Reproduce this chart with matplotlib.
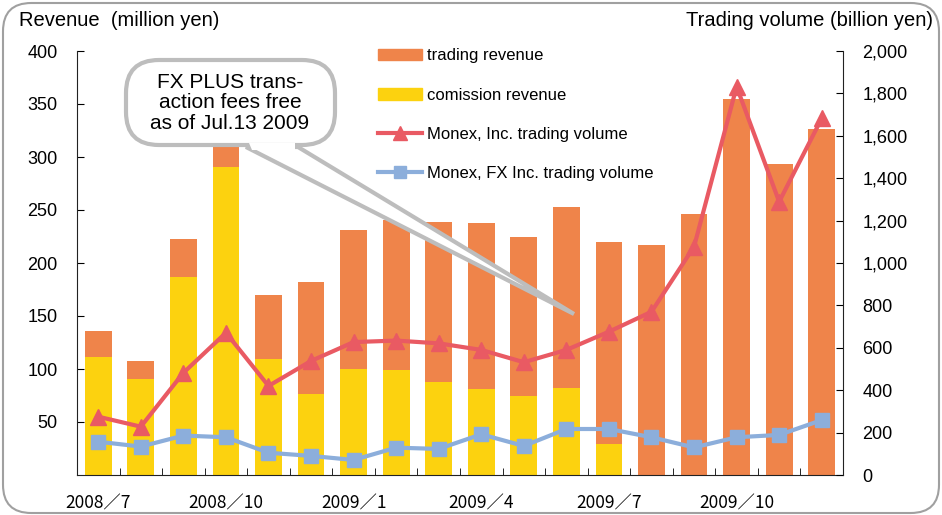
import matplotlib
matplotlib.use("Agg")
import matplotlib.pyplot as plt
from matplotlib.patches import FancyBboxPatch, Polygon, Patch
from matplotlib.lines import Line2D
import numpy as np

plt.rcParams['font.family'] = ['Liberation Sans', 'DejaVu Sans']

months = ["2008/7", "2008/8", "2008/9", "2008/10", "2008/11", "2008/12",
          "2009/1", "2009/2", "2009/3", "2009/4", "2009/5", "2009/6",
          "2009/7", "2009/8", "2009/9", "2009/10", "2009/11", "2009/12"]
commission_revenue = [111, 91, 187, 291, 109, 76, 100, 99, 88, 81, 75, 82, 29, 0, 0, 0, 0, 0]
total_revenue = [136, 108, 223, 310, 170, 182, 231, 241, 239, 238, 225, 253, 220, 217, 246, 355, 293, 326]
trading_revenue = [t - c for t, c in zip(total_revenue, commission_revenue)]
monex_inc_volume = [275, 228, 482, 671, 420, 538, 627, 634, 621, 590, 532, 590, 676, 770, 1077, 1832, 1289, 1682]
monex_fx_volume = [157, 134, 186, 178, 105, 90, 71, 129, 123, 192, 137, 217, 217, 178, 130, 178, 189, 259]
tick_labels = ["2008／7", "2008／10", "2009／1", "2009／4", "2009／7", "2009／10"]
tick_idx = [0, 3, 6, 9, 12, 15]

ORANGE = "#EF844A"
YELLOW = "#FCD20F"
RED = "#E95A63"
BLUE = "#8CAEDB"

W, H = 942, 515
fig = plt.figure(figsize=(W / 100, H / 100), dpi=100)

def fx(x):
    return x / W

def fy(y):
    return 1 - y / H

L, R, T, B = 77, 843, 51, 475
ax = fig.add_axes([fx(L), fy(B), (R - L) / W, (B - T) / H])
ax2 = ax.twinx()

x = np.arange(len(months))
bw = 0.63
ax.bar(x, commission_revenue, bw, color=YELLOW, zorder=2)
ax.bar(x, trading_revenue, bw, bottom=commission_revenue, color=ORANGE, zorder=2)

ax2.plot(x, monex_inc_volume, color=RED, lw=3, marker="^", ms=11, zorder=3)
ax2.plot(x, monex_fx_volume, color=BLUE, lw=3, marker="s", ms=10, zorder=3)

ax.set_xlim(-0.5, len(months) - 0.5)
ax.set_ylim(0, 400)
ax2.set_ylim(0, 2000)

ax.set_yticks(np.arange(50, 401, 50))
ax.tick_params(axis="y", direction="in", length=5, pad=14, labelsize=13)
ax2.set_yticks(np.arange(0, 2001, 200))
ax2.set_yticklabels([f"{v:,}" for v in range(0, 2001, 200)])
ax2.tick_params(axis="y", direction="in", length=5, pad=14, labelsize=13)

ax.set_xticks(x[tick_idx])
ax.set_xticklabels(tick_labels, family=['Noto Sans CJK JP', 'DejaVu Sans'], fontsize=12.5)
ax.set_xticks(np.arange(-0.5, len(months), 1), minor=True)
ax.tick_params(axis="x", which="major", length=0, pad=14)
ax.tick_params(axis="x", which="minor", direction="in", length=5)

for a in (ax, ax2):
    a.spines["top"].set_visible(False)
    a.patch.set_visible(False)
ax.spines["right"].set_visible(False)
ax2.spines["left"].set_visible(False)
ax2.spines["bottom"].set_visible(False)
for s in ("left", "bottom"):
    ax.spines[s].set_color("#222222")
ax2.spines["right"].set_color("#222222")

fig.text(fx(19), fy(21), "Revenue  (million yen)", fontsize=14.5, va="center", ha="left")
fig.text(fx(933), fy(21), "Trading volume (billion yen)", fontsize=14.5, va="center", ha="right")

handles = [Patch(color=ORANGE), Patch(color=YELLOW),
           Line2D([], [], color=RED, lw=3, marker="^", ms=10),
           Line2D([], [], color=BLUE, lw=3, marker="s", ms=9)]
labels = ["trading revenue", "comission revenue", "Monex, Inc. trading volume", "Monex, FX Inc. trading volume"]
fig.legend(handles, labels, loc="upper left", bbox_to_anchor=(fx(370), fy(40)), frameon=False,
           fontsize=12, handlelength=2.6, handletextpad=0.3, labelspacing=1.45, borderpad=0)

# callout
GRAY = "#BDBDBD"
tip = (574, 314)
b1, b2 = (246, 147), (298, 147)
wedge = Polygon([(fx(b1[0]), fy(b1[1])), (fx(tip[0]), fy(tip[1])), (fx(b2[0]), fy(b2[1]))],
                closed=True, transform=fig.transFigure, facecolor="white", edgecolor=GRAY, lw=3, zorder=10)
fig.add_artist(wedge)
box = FancyBboxPatch((fx(126), fy(145)), fx(335) - fx(126), fy(60) - fy(145),
                     boxstyle="round,pad=0,rounding_size=0.035", transform=fig.transFigure,
                     facecolor="white", edgecolor=GRAY, lw=3, zorder=11, mutation_aspect=W / H)
fig.add_artist(box)
cover = Polygon([(fx(b1[0] + 3), fy(b1[1] - 4)), (fx(b1[0] + 6), fy(b1[1] + 3)),
                 (fx(b2[0] - 3), fy(b2[1] + 3)), (fx(b2[0] - 3), fy(b2[1] - 4))],
                closed=True, transform=fig.transFigure, facecolor="white", edgecolor="none", zorder=12)
fig.add_artist(cover)
fig.text(fx(230), fy(103), "FX PLUS trans-\naction fees free\nas of Jul.13 2009", fontsize=15,
         ha="center", va="center", linespacing=1.1, zorder=13)

frame = FancyBboxPatch((fx(3), fy(513)), fx(939) - fx(3), fy(3) - fy(513),
                       boxstyle="round,pad=0,rounding_size=0.03", transform=fig.transFigure,
                       facecolor="none", edgecolor="#A0A0A0", lw=1.5, zorder=20, mutation_aspect=W / H)
fig.add_artist(frame)

fig.savefig("out.png", dpi=100)
